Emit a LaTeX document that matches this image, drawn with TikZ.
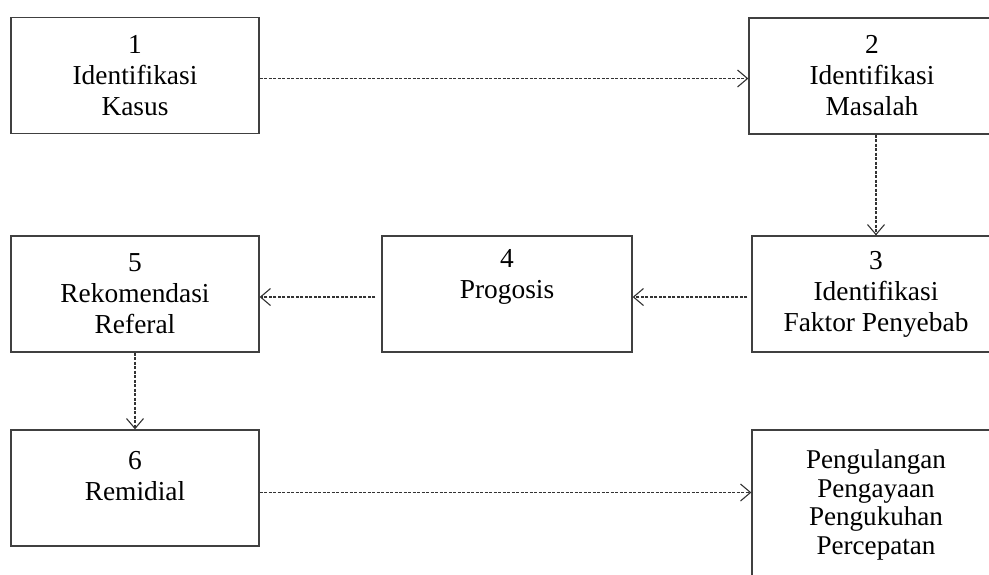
\documentclass[tikz,border=0pt]{standalone}
\usepackage{fontspec}
\setmainfont{Liberation Serif}
\usetikzlibrary{positioning, arrows.meta, calc}

\begin{document}
\begin{tikzpicture}[x=1pt, y=-1pt,
	kotak/.style={draw=black!75, line width=1.3pt, minimum width=248pt, minimum height=116pt, align=center, inner sep=0pt, font=\fontsize{27.4}{31}\selectfont},
	panah/.style={draw=black!80, line width=1.1pt, dash pattern=on 3pt off 1.5pt, -{Straight Barb[length=10pt, width=17pt, line width=1.1pt]}}]
	\useasboundingbox (0,0) rectangle (989,574);
	\clip (0,0) rectangle (989,574);
	\node[kotak] (k1) at (135, 75.5) {1\\Identifikasi\\Kasus};
	\node[kotak, minimum width=246pt] (k2) at (872, 76) {2\\Identifikasi\\Masalah};
	\node[kotak] (k3) at (876, 294) {3\\Identifikasi\\Faktor Penyebab};
	\node[kotak, minimum width=250pt] (k4) at (507, 294) {4\\Progosis\\\strut};
	\node[kotak] (k5) at (135, 294) {5\\Rekomendasi\\Referal};
	\node[kotak] (k6) at (135, 488) {6\\Remidial\\[-16pt]\strut};
	\node[kotak, minimum height=150pt, font=\fontsize{27.1}{28.5}\selectfont] (k7) at (876, 505) {Pengulangan\\Pengayaan\\Pengukuhan\\Percepatan};
	% alur
	\draw[panah] ([yshift=-3pt]k1.east) -- ([yshift=-3pt]k1.east -| k2.west);
	\draw[panah] (k2.south -| k3.north) -- (k3.north);
	\draw[panah, shorten <=4pt] ([yshift=-3pt]k3.west) -- ([yshift=-3pt]k4.east);
	\draw[panah, shorten <=6pt] ([yshift=-3pt]k4.west) -- ([yshift=-3pt]k5.east);
	\draw[panah] (k5.south) -- (k6.north);
	\draw[panah] ([yshift=-4.5pt]k6.east) -- ([yshift=-4.5pt]k6.east -| k7.west);
\end{tikzpicture}
\end{document}
